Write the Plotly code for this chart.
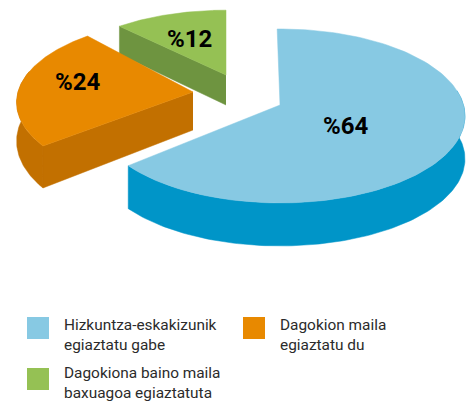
import numpy as np
import plotly.graph_objects as go

labels = ["Hizkuntza-eskakizunik<br>egiaztatu gabe", "Dagokion maila<br>egiaztatu du", "Dagokiona baino maila<br>baxuagoa egiaztatuta"]
values = [64, 24, 12]
value_texts = ["%64", "%24", "%12"]
top_colors = ["#87C9E3", "#E88900", "#95C154"]
wall_colors = ["#0095C8", "#C27000", "#6E9440"]

# Projection of each exploded slice
K = 0.126
apex = [(280, 105), (193, 92), (226, 75)]
radii = [(183.5, 85.6), (175, 81.5), (170, 73)]
bottom_radii = [(183.5, 85.6), (175, 87.5), (170, 73)]
depths = [43, 38, 30]
start_angles = [-1, 232.3, 316.8]
label_pos = [(345.5, 126), (77.5, 82), (189.5, 39)]
legend_pos = [(27, 317), (243, 317), (27, 368)]
legend_text_dy = [-3, -3, -6]


def project(i, deg, dy=0.0, r=None):
    r = r or radii[i]
    t = np.radians(deg)
    u, v = np.sin(t), -np.cos(t)
    s = 1 / (1 - K * v)
    return apex[i][0] + r[0] * u * s, apex[i][1] + dy + r[1] * v * s


fig = go.Figure()


def poly(xs, ys, color):
    fig.add_trace(go.Scatter(x=xs, y=ys, mode="lines", fill="toself", fillcolor=color,
                             line=dict(color=color, width=0.5), hoverinfo="skip", showlegend=False))


for i in [0, 2, 1]:
    a0 = start_angles[i]
    a1 = a0 + values[i] * 3.6
    d = depths[i]
    ax, ay = apex[i]
    if i == 0:
        th = np.linspace(80, a1, 120)
        xt, yt = project(i, th)
        xb, yb = project(i, th[::-1], d)
        poly(list(xt) + list(xb), list(yt) + list(yb), wall_colors[i])
    elif i == 1:
        th = np.linspace(a0, 285, 60)
        xt, yt = project(i, th)
        xb, yb = project(i, th[::-1], d, bottom_radii[i])
        poly(list(xt) + list(xb), list(yt) + list(yb), wall_colors[i])
        x0, y0 = project(i, a0)
        x1, y1 = project(i, a0, d, bottom_radii[i])
        poly([ax, x0, x1, ax], [ay, y0, y1, ay + d], wall_colors[i])
    else:
        x0, y0 = project(i, a0)
        poly([ax, x0, x0, ax], [ay, y0, y0 + 28, ay + d], wall_colors[i])
    th = np.linspace(a0, a1, 120)
    xt, yt = project(i, th)
    poly([ax] + list(xt) + [ax], [ay] + list(yt) + [ay], top_colors[i])

annotations = []
for i in range(3):
    annotations.append(dict(x=label_pos[i][0], y=label_pos[i][1], text="<b>%s</b>" % value_texts[i],
                            showarrow=False, font=dict(family="Roboto", size=24, color="#000000")))
    lx, ly = legend_pos[i]
    annotations.append(dict(x=lx + 34.5, y=ly + legend_text_dy[i], text=labels[i], showarrow=False,
                            xanchor="left", yanchor="top", align="left",
                            font=dict(family="Roboto", size=15.4, color="#2B2B2B")))

shapes = [dict(type="rect", x0=lx, x1=lx + 22, y0=ly, y1=ly + 22, fillcolor=c, line=dict(width=0), layer="above")
          for (lx, ly), c in zip(legend_pos, top_colors)]

fig.update_layout(
    width=473, height=401, margin=dict(l=0, r=0, t=0, b=0),
    paper_bgcolor="white", plot_bgcolor="white", showlegend=False,
    xaxis=dict(range=[0, 473], visible=False, fixedrange=True),
    yaxis=dict(range=[401, 0], visible=False, fixedrange=True),
    annotations=annotations, shapes=shapes,
)
fig.write_html("out.html", config={"displayModeBar": False},
               post_script="document.body.style.margin='0';document.body.style.overflow='hidden';")
